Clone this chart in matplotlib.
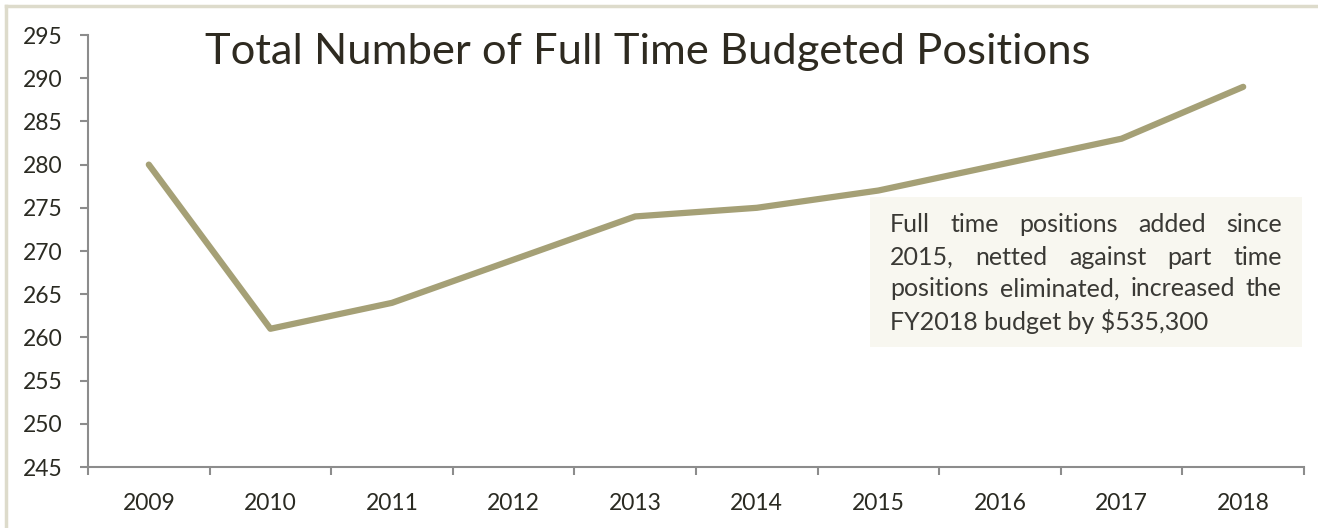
import matplotlib
matplotlib.use("Agg")
import matplotlib.pyplot as plt
from matplotlib.lines import Line2D
import numpy as np

years = ["2009", "2010", "2011", "2012", "2013", "2014", "2015", "2016", "2017", "2018"]
positions = [280, 261, 264, 269, 274, 275, 277, 280, 283, 289]
y_ticks = [245, 250, 255, 260, 265, 270, 275, 280, 285, 290, 295]

title = "Total Number of Full Time Budgeted Positions"
note_lines = [
    "Full time positions added since",
    "2015, netted against part time",
    "positions eliminated, increased the",
    "FY2018 budget by $535,300",
]

W, H = 1318, 528
fig = plt.figure(figsize=(W / 100, H / 100), dpi=100)
fig.patch.set_facecolor("white")

# frame lines (top / left only visible)
fig.add_artist(Line2D([6 / W, 1], [1 - 6 / H, 1 - 6 / H], color="#dddbcb", lw=2.5))
fig.add_artist(Line2D([6 / W, 6 / W], [0, 1 - 6 / H], color="#dddbcb", lw=2.5))

ax = fig.add_axes([88 / W, 1 - 467 / H, (1304 - 88) / W, (467 - 35) / H])
x = np.arange(len(years))
ax.plot(x, positions, color="#a5a076", lw=4.5, solid_capstyle="round", solid_joinstyle="round")

ax.set_xlim(-0.5, len(years) - 0.5)
ax.set_ylim(245, 295)
ax.set_yticks(y_ticks)
ax.set_xticks(x)
ax.set_xticklabels(years)
ax.set_xticks(np.arange(len(years) + 1) - 0.5, minor=True)

for s in ["top", "right"]:
    ax.spines[s].set_visible(False)
for s in ["left", "bottom"]:
    ax.spines[s].set_color("#8c8c8c")
    ax.spines[s].set_linewidth(1.5)

lab_font = "Lato"
ax.tick_params(axis="y", length=6, width=1.5, color="#8c8c8c", pad=12,
               labelsize=16.5, labelcolor="#2a2a22")
ax.tick_params(axis="x", which="major", length=0, pad=19,
               labelsize=16.5, labelcolor="#2a2a22")
ax.tick_params(axis="x", which="minor", length=6, width=1.5, color="#8c8c8c")
for t in ax.get_xticklabels() + ax.get_yticklabels():
    t.set_fontfamily(lab_font)

fig.text(205 / W, 1 - 52 / H, title, fontsize=31.3, color="#2e2a20",
         family="Lato", va="center", ha="left")

# note box
bx0, bx1, by0, by1 = 870, 1302, 197, 347
fig.add_artist(plt.Rectangle((bx0 / W, 1 - by1 / H), (bx1 - bx0) / W, (by1 - by0) / H,
                             transform=fig.transFigure, facecolor="#f8f7f0", edgecolor="none"))

renderer = fig.canvas.get_renderer()
tx0, tx1 = 890, 1282
line_y = [225, 257, 289, 321]
fs = 18
for i, (line, ly) in enumerate(zip(note_lines, line_y)):
    words = line.split(" ")
    yf = 1 - ly / H
    if i == len(note_lines) - 1:
        fig.text(tx0 / W, yf, line, fontsize=fs, color="#3a3935", family="Lato",
                 ha="left", va="center")
        continue
    widths = []
    arts = []
    for w in words:
        t = fig.text(0, yf, w, fontsize=fs, color="#3a3935", family="Lato",
                     ha="left", va="center")
        bb = t.get_window_extent(renderer)
        widths.append(bb.width)
        arts.append(t)
    gap = (tx1 - tx0 - sum(widths)) / (len(words) - 1)
    cur = tx0
    for t, wd in zip(arts, widths):
        t.set_x(cur / W)
        cur += wd + gap

fig.savefig("out.png", dpi=100)
